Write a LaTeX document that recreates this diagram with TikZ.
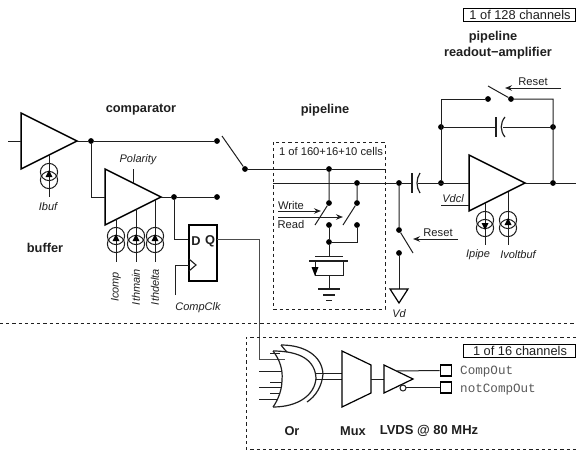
\documentclass[tikz,border=0pt]{standalone}
\usepackage{fontspec}
\setmainfont{Liberation Sans}
\setmonofont{Liberation Mono}
\usetikzlibrary{arrows.meta}
\definecolor{ink}{gray}{0.12}
\tikzset{
  x=1pt,y=-1pt,
  wire/.style={line width=1pt,draw=ink},
  heavy/.style={line width=1.5pt,draw=black,line join=miter},
  dot/.style={circle,fill=black,inner sep=0pt,minimum size=5.8pt},
  pt/.style={coordinate},
  lab/.style={font=\fontsize{11}{12}\selectfont\itshape,text=ink,inner sep=0pt},
  lbl/.style={font=\fontsize{11.2}{12}\selectfont,text=ink,inner sep=0pt},
  head/.style={font=\fontsize{12.8}{14}\selectfont\bfseries,text=ink,inner sep=0pt},
  tag/.style={font=\fontsize{12.8}{14}\selectfont,text=ink,draw=black,line width=0.9pt,inner sep=0pt,minimum height=13pt,minimum width=112pt},
  mono/.style={font=\fontsize{12.6}{13}\selectfont\ttfamily,text=black!65,inner sep=0pt,anchor=west},
  dashbox/.style={line width=1pt,dash pattern=on 3.2pt off 3pt,draw=ink},
  arr/.style={wire,-{Stealth[length=7pt,width=5.5pt]}},
}
\begin{document}
\begin{tikzpicture}
\useasboundingbox (0,0) rectangle (576,450);
% ---- named points and dots
\node[pt] (in) at (8,141) {};
\node[pt] (bufO) at (77,141) {};
\node[dot] (n1) at (91,141) {};
\node[dot] (n2) at (217,141) {};
\node[dot] (sw1b) at (245,169) {};
\node[pt] (sw1t) at (222,136) {};
\node[pt] (cmpI) at (105,197) {};
\node[pt] (cmpO) at (161,197) {};
\node[dot] (n3) at (174,197) {};
\node[dot] (n4) at (217,197) {};
\node[pt] (ffD) at (189,239) {};
\node[pt] (ffQ) at (217,239) {};
\node[pt] (clk) at (189,265) {};
\node[pt] (clkE) at (175,295) {};
\node[dot] (p1) at (329,169) {};
\node[pt] (p1e) at (385,169) {};
\node[pt] (p2s) at (273,183) {};
\node[dot] (p2) at (357,183) {};
\node[dot] (p3) at (399,183) {};
\node[pt] (capL) at (412,183) {};
\node[dot] (s1t) at (329,203) {};
\node[dot] (s1b) at (329,225) {};
\node[pt] (s1e) at (315,225) {};
\node[dot] (s2t) at (357,203) {};
\node[dot] (s2b) at (357,225) {};
\node[pt] (s2e) at (343,225) {};
\node[dot] (j) at (329,242) {};
\node[pt] (j2) at (357,242) {};
\node[dot] (r1) at (399,230) {};
\node[dot] (r2) at (399,253) {};
\node[pt] (r1e) at (413,253) {};
\node[pt] (vd) at (399,289) {};
\node[dot] (a1) at (441,183) {};
\node[dot] (a2) at (553,183) {};
\node[dot] (b1) at (441,127) {};
\node[dot] (b2) at (553,127) {};
\node[dot] (c1) at (488,99) {};
\node[dot] (c2) at (511,99) {};
\node[pt] (c1t) at (488,86) {};
\node[pt] (cc) at (441,99) {};
\node[pt] (cd) at (553,99) {};
\node[pt] (outE) at (576,183) {};
\node[pt] (ampO) at (525,183) {};
\node[pt] (ampI) at (469,183) {};

% ---- amplifiers
\draw[heavy] (21,113) -- (21,169) -- (77,141) -- cycle;
\draw[heavy] (105,169) -- (105,225) -- (161,197) -- cycle;
\draw[heavy] (469,155) -- (469,211) -- (525,183) -- cycle;

% ---- main wires
\draw[wire] (in) -- (21,141);
\draw[wire] (bufO) -- (n1) -- (n2);
\draw[wire] (sw1t) -- (sw1b);
\draw[wire] (n1) |- (cmpI);
\draw[wire] (cmpO) -- (n3) -- (n4);
\draw[wire] (n3) |- (ffD);
\draw[wire] (sw1b) -- (p1) -- (p1e);
\draw[wire] (p2s) -- (p2) -- (p3) -- (capL);
\draw[wire] (p1) -- (s1t) -- (s1e);
\draw[wire] (p2) -- (s2t) -- (s2e);
\draw[wire] (s1b) -- (j) -- (329,256);
\draw[wire] (s2b) -- (j2) -- (j);
\draw[wire] (p3) -- (r1) -- (r1e);
\draw[wire] (r2) -- (vd);
\draw[heavy,line width=1.2pt] (vd.center) ++(-9,0) -- ++(18,0) -- (399,303) -- cycle;
\draw[wire] (418,183) -- (ampI);
\draw[wire] (ampO) -- (a2) -- (outE);
\draw[wire] (a1) -- (cc) -- (c1);
\draw[wire] (c1t) -- (c2) -- (cd) -- (a2);
\draw[wire] (b1) -- (497,127);
\draw[wire] (503,127) -- (b2);
\draw[wire] (133,169) -- (133,183);
\draw[wire] (441,205) -- (469,205);

% ---- capacitors
\draw[wire,line width=1.2pt] (412,173) -- (412,193);
\draw[wire,line width=1.2pt] (420,173) .. controls (416,179) and (416,187) .. (420,193);
\draw[wire,line width=1.2pt] (496,117) -- (496,137);
\draw[wire,line width=1.2pt] (505,117) .. controls (500,123) and (500,131) .. (505,137);

% ---- current sources
\foreach \x/\yt/\yc/\ye in {49/155/176/197,116/219/240/262,136/209/240/262,155/200/240/262,485/203/224/245,508/192/224/245}{
  \draw[wire] (\x,\yt) -- (\x,\ye);
  \draw[wire] (\x,\yc-4) circle[radius=8.6];
  \draw[wire] (\x,\yc+4) circle[radius=8.6];
}
\foreach \x/\yc in {49/176,116/240,136/240,155/240,508/224}{
  \fill[black] (\x,\yc-6) -- (\x+3.5,\yc+1) -- (\x-3.5,\yc+1) -- cycle;
}
\fill[black] (485,230) -- (488.5,223) -- (481.5,223) -- cycle;

% ---- flip-flop
\draw[heavy,line width=1.2pt] (189,225) rectangle (217,281);
\draw[wire,line width=1.1pt] (189,259) -- (196,265) -- (189,271);
\draw[wire] (clkE) |- (clk);
\node[head] (ffd) at (196,241) {D};
\node[head] (ffq) at (210,241) {Q};
\draw[wire,draw=black!70] (ffQ) -- (259,239) -- (259,359) -- (285,359);

% ---- pipeline cell
\draw[dashbox] (273,142) rectangle (385,309);
\draw[arr] (278,211) -- (321,211);
\draw[arr] (278,217) -- (343,217);
\draw[wire] (315,256) -- (343,256);
\draw[wire,line width=1.2pt] (309,261) -- (348,261);
\draw[wire] (315,261) -- (315,275) -- (343,275) -- (343,261);
\fill[black] (315,276) -- (311.5,267) -- (318.5,267) -- cycle;
\draw[wire] (329,275) -- (329,289);
\draw[wire,line width=1.2pt] (318,289) -- (340,289);
\draw[wire,line width=1.2pt] (323,295) -- (335,295);
\draw[wire,line width=1.2pt] (326,300.5) -- (332,300.5);

% ---- reset arrows
\draw[arr] (458,239) -- (413,239);
\draw[arr] (561,88) -- (505,88);

% ---- separators
\draw[dashbox] (0,323) -- (576,323);
\draw[dashbox] (576,337) -- (246,337) -- (246,449) -- (576,449);

% ---- Or gates
\draw[wire,line width=1.2pt] (281,345) .. controls (284,349) and (286,351) .. (287,352);
\draw[wire,line width=1.2pt] (281,345) .. controls (305,345) and (322,356) .. (323,374) .. controls (322,386) and (316,396) .. (307,402);
\draw[wire,line width=1.2pt] (273,351) .. controls (280,360) and (283,370) .. (282,380) .. controls (282,390) and (278,400) .. (273,407);
\draw[wire,line width=1.2pt] (273,351) .. controls (300,351) and (315,360) .. (316,378) .. controls (315,395) and (298,407) .. (273,407);
\foreach \y/\xa/\xb in {353/270/280,371/259/282,382/270/282,387/259/282,393/270/280,399/259/278}{
  \draw[wire] (\xa,\y) -- (\xb,\y);
}
\draw[wire] (316,373) -- (342,373);
\draw[wire] (316,379) -- (342,379);
\draw[heavy,line width=1.2pt] (342,351) -- (371,365) -- (371,393) -- (342,407) -- cycle;
\draw[wire] (371,379) -- (384,379);
\draw[heavy,line width=1.2pt] (384,365) -- (384,393) -- (413,379) -- cycle;
\draw[wire,fill=white] (403,388) circle[radius=3];
\node[draw=black,line width=1.2pt,inner sep=0pt,minimum width=11.5pt,minimum height=11pt,fill=white] (pad1) at (446,370.5) {};
\node[draw=black,line width=1.2pt,inner sep=0pt,minimum width=11.5pt,minimum height=11pt,fill=white] (pad2) at (446,387.5) {};
\draw[wire] (397,371) -- (pad1.west);
\draw[wire] (406,387.5) -- (pad2.west);

% ---- text
\node[tag] (t128) at (519,14.5) {\hspace*{2pt}1 of 128 channels};
\node[tag] (t16) at (519,350.5) {\hspace*{2pt}1 of 16 channels};
\node[head] (h1) at (493,37.5) {pipeline};
\node[head] (h2) at (498,53.5) {readout−amplifier};
\node[head] (h3) at (141,110) {comparator};
\node[head] (h4) at (325,110) {pipeline};
\node[head] (h5) at (45,248) {buffer};
\node[lab] (l1) at (48,207) {Ibuf};
\node[lab] (l2) at (138,160) {Polarity};
\node[lab,rotate=90] (l3) at (116,287) {Icomp};
\node[lab,rotate=90] (l4) at (136,287) {Ithmain};
\node[lab,rotate=90] (l5) at (155,287) {Ithdelta};
\node[lab] (l6) at (198,308) {CompClk};
\node[lbl] (l7) at (331,151.5) {1 of 160+16+10 cells};
\node[lbl] (l8) at (291,205) {Write};
\node[lbl] (l9) at (291,224) {Read};
\node[lab] (l10) at (399,314) {Vd};
\node[lbl] (l11) at (438,233) {Reset};
\node[lbl] (l12) at (533,82) {Reset};
\node[lab] (l13) at (453,199) {Vdcl};
\node[lab] (l14) at (478,255) {Ipipe};
\node[lab] (l15) at (518,255) {Ivoltbuf};
\node[mono] (m1) at (460,372) {CompOut};
\node[mono] (m2) at (460,389.5) {notCompOut};
\node[head] (o1) at (292,431) {Or};
\node[head] (o2) at (353,431) {Mux};
\node[head,font=\fontsize{13}{14}\selectfont\bfseries] (o3) at (429,431) {LVDS @ 80 MHz};
\end{tikzpicture}
\end{document}
